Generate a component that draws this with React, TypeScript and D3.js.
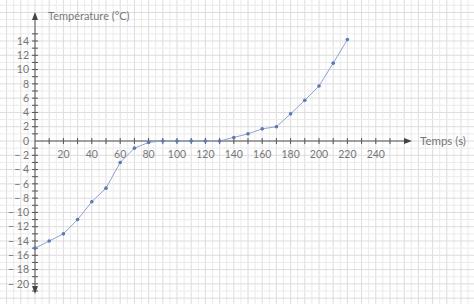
import React from "react";
import * as d3 from "d3";

const times = [0, 10, 20, 30, 40, 50, 60, 70, 80, 90, 100, 110, 120, 130, 140, 150, 160, 170, 180, 190, 200, 210, 220];
const temps = [-15, -14, -13, -11, -8.5, -6.6, -3, -1, -0.2, 0, 0, 0, 0, 0, 0.5, 1, 1.7, 2, 3.8, 5.7, 7.7, 10.9, 14.2];
const xTickLabels = [20, 40, 60, 80, 100, 120, 140, 160, 180, 200, 220, 240];
const yTickLabels = [14, 12, 10, 8, 6, 4, 2, 0, -2, -4, -6, -8, -10, -12, -14, -16, -18, -20];
const xTitle = "Temps (s)";
const yTitle = "Température (°C)";

export default function App() {
  const W = 474, H = 304;
  const x = d3.scaleLinear().domain([0, 240]).range([35, 375.8]);
  const y = d3.scaleLinear().domain([0, 14]).range([141, 41]);
  const font = "Lato, 'Open Sans', sans-serif";
  const textCol = "#777";

  const gridX = d3.range(-30, 340, 5);
  const gridY = d3.range(-25, 25, 1);
  const xTicks = d3.range(10, 260, 10);
  const yTicks = d3.range(-21, 16, 1).filter((v) => v !== 0);

  const line = d3.line<number>().x((_, i) => x(times[i])).y((d) => y(d));

  return (
    <svg width={W} height={H} style={{ position: "absolute", left: 0, top: 0, background: "#fff" }}>
      <g>
        {gridX.map((v) => (
          <line key={"gx" + v} x1={x(v)} x2={x(v)} y1={0} y2={H}
            stroke={v % 10 === 0 ? "#dcdcdc" : "#ebebeb"} strokeWidth={1} />
        ))}
        {gridY.map((v) => (
          <line key={"gy" + v} y1={y(v)} y2={y(v)} x1={0} x2={W}
            stroke={v % 2 === 0 ? "#dcdcdc" : "#ebebeb"} strokeWidth={1} />
        ))}
      </g>
      <g stroke="#555" strokeWidth={1}>
        <line x1={x(0)} x2={408} y1={y(0)} y2={y(0)} />
        <line x1={x(0)} x2={x(0)} y1={290} y2={16} />
        {xTicks.map((v) => (
          <line key={"xt" + v} x1={x(v)} x2={x(v)} y1={y(0) - 3} y2={y(0) + 3} />
        ))}
        {yTicks.map((v) => (
          <line key={"yt" + v} x1={x(0) - 3} x2={x(0) + 3} y1={y(v)} y2={y(v)} />
        ))}
      </g>
      <path d={`M412,${y(0)} L404,${y(0) - 3} L404,${y(0) + 3} Z`} fill="#444" />
      <path d={`M${x(0)},12 L${x(0) - 3},20 L${x(0) + 3},20 Z`} fill="#444" />
      <path d={`M${x(0)},294 L${x(0) - 3},286 L${x(0) + 3},286 Z`} fill="#444" />
      <g fontFamily={font} fontSize={10.5} fill={textCol}>
        {xTickLabels.map((v) => (
          <text key={"xl" + v} x={x(v)} y={y(0) + 17} textAnchor="middle">{v}</text>
        ))}
        {yTickLabels.map((v) => (
          <text key={"yl" + v} x={x(0) - 6} y={y(v) + 3.7} textAnchor="end">
            {v < 0 ? `− ${Math.abs(v)}` : `${v}`}
          </text>
        ))}
      </g>
      <text x={48} y={20} fontFamily={font} fontSize={11} fill={textCol}>{yTitle}</text>
      <text x={420} y={y(0) + 4} fontFamily={font} fontSize={11.5} fill={textCol}>{xTitle}</text>
      <path d={line(temps) || ""} fill="none" stroke="#8ea2cc" strokeWidth={1} />
      {temps.map((t, i) => (
        <circle key={"p" + i} cx={x(times[i])} cy={y(t)} r={1.8} fill="#5b78b4" />
      ))}
    </svg>
  );
}
